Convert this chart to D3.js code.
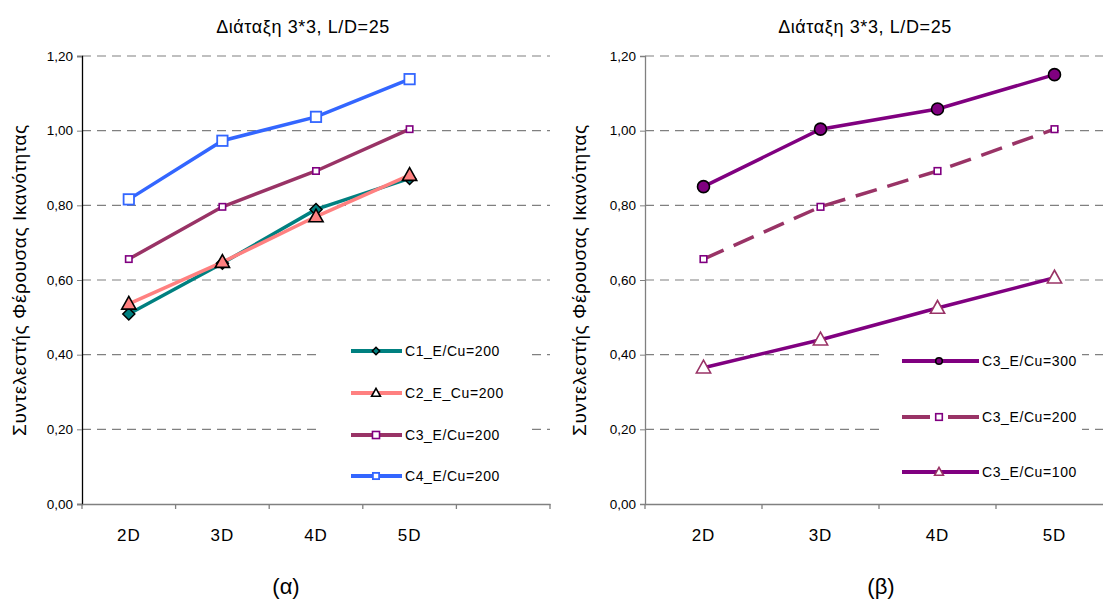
<!DOCTYPE html>
<html><head><meta charset="utf-8">
<script src="https://cdn.jsdelivr.net/npm/d3@7"></script>
<style>
body{margin:0;background:#fff;}
text{font-family:"Liberation Sans",Arial,sans-serif;fill:#000;}
</style></head>
<body><svg id="c" width="1103" height="601"></svg>
<script>
const title = "Διάταξη 3*3, L/D=25";
const yTitle = "Συντελεστής Φέρουσας Ικανότητας";
const categoriesA = ["2D","3D","4D","5D",""];
const categoriesB = ["2D","3D","4D","5D"];
const yTicks = [0,0.2,0.4,0.6,0.8,1.0,1.2];
const C1 = [0.509,0.645,0.789,0.872];
const C2 = [0.536,0.648,0.770,0.881];
const C3 = [0.656,0.796,0.892,1.004];
const C4 = [0.816,0.973,1.037,1.138];
const E300 = [0.850,1.004,1.058,1.150];
const E200 = [0.656,0.796,0.892,1.004];
const E100 = [0.365,0.440,0.525,0.606];
const namesA = ["C1_E/Cu=200","C2_E_Cu=200","C3_E/Cu=200","C4_E/Cu=200"];
const namesB = ["C3_E/Cu=300","C3_E/Cu=200","C3_E/Cu=100"];

const svg = d3.select("#c");
const fmt = d => d.toFixed(2).replace(".", ",");

function panel(cfg){
  const g = svg.append("g");
  const x = d3.scaleBand().domain(cfg.cats).range([cfg.x0, cfg.x1]);
  const y = d3.scaleLinear().domain([0,1.2]).range([504,56]);
  // grid
  g.append("g").selectAll("line").data(yTicks.slice(1)).join("line")
    .attr("x1", cfg.x0).attr("x2", cfg.gx1).attr("y1", d=>y(d)).attr("y2", d=>y(d))
    .attr("stroke","#808080").attr("stroke-width",1.2).attr("stroke-dasharray","9,6");
  // legend backdrop
  g.append("rect").attr("x",cfg.lg.bx).attr("y",cfg.lg.by).attr("width",cfg.lg.bw).attr("height",cfg.lg.bh).attr("fill","#fff");
  // axes
  const ya = g.append("g").attr("transform",`translate(${cfg.x0},0)`)
    .call(d3.axisLeft(y).tickValues(yTicks).tickFormat(fmt).tickSize(5).tickPadding(4));
  ya.select(".domain").attr("stroke",cfg.yAxisColor).attr("stroke-width",1.3);
  ya.selectAll(".tick line").attr("stroke","#808080");
  ya.selectAll("text").style("font-size","13.5px").style("font-family","Liberation Sans,Arial");
  const xa = g.append("g").attr("transform",`translate(0,${y(0)})`)
    .call(d3.axisBottom(x).tickSize(0).tickPadding(0).tickFormat(""));
  xa.select(".domain").attr("stroke","#808080").attr("stroke-width",1.3);
  const edges = d3.range(cfg.cats.length+1).map(i => cfg.x0 + i*x.step());
  g.append("g").selectAll("line").data(edges).join("line")
    .attr("x1",d=>d).attr("x2",d=>d).attr("y1",y(0)).attr("y2",y(0)+5).attr("stroke","#808080").attr("stroke-width",1.3);
  g.append("g").selectAll("text").data(cfg.cats.filter(c=>c)).join("text")
    .attr("x",d=>x(d)+x.bandwidth()/2).attr("y",y(0)+37).attr("text-anchor","middle")
    .style("font-size","17px").style("letter-spacing","1px").text(d=>d);
  // title
  g.append("text").attr("x",cfg.tx).attr("y",33).attr("text-anchor","middle")
    .style("font-size","18px").style("letter-spacing","0.6px").text(title);
  g.append("text").attr("transform",`translate(${cfg.ytx},${280}) rotate(-90)`).attr("text-anchor","middle")
    .style("font-size","19px").style("letter-spacing","0.6px").text(yTitle);
  g.append("text").attr("x",cfg.capx).attr("y",594).attr("text-anchor","middle")
    .style("font-size","22px").text(cfg.cap);

  const cx = i => x(cfg.cats[i]) + x.bandwidth()/2;
  cfg.series.forEach(s => {
    const line = d3.line().x((d,i)=>cx(i)).y(d=>y(d));
    g.append("path").datum(s.data).attr("d",line).attr("fill","none")
      .attr("stroke",s.color).attr("stroke-width",3.5).attr("stroke-dasharray",s.dash||null);
  });
  cfg.series.forEach(s => {
    s.data.forEach((d,i)=> marker(g, s.m, cx(i), y(d), false));
  });
  // legend
  cfg.series.forEach((s,k) => {
    const ly = cfg.lg.ys[k];
    if (s.dash){
      g.append("line").attr("x1",cfg.lg.l0).attr("x2",cfg.lg.mx-9).attr("y1",ly).attr("y2",ly).attr("stroke",s.color).attr("stroke-width",4);
      g.append("line").attr("x1",cfg.lg.mx+9).attr("x2",cfg.lg.l1).attr("y1",ly).attr("y2",ly).attr("stroke",s.color).attr("stroke-width",4);
    } else {
      g.append("line").attr("x1",cfg.lg.l0).attr("x2",cfg.lg.l1).attr("y1",ly).attr("y2",ly).attr("stroke",s.color).attr("stroke-width",4);
    }
    marker(g, s.m, cfg.lg.mx, ly, true);
    g.append("text").attr("x",cfg.lg.tx).attr("y",ly+5).style("font-size","14px").style("letter-spacing","0.6px").text(s.name);
  });
}

function marker(g, m, px, py, small){
  const k = small ? 0.62 : 1;
  if (m.type==="diamond"){
    const r = m.r*k;
    g.append("path").attr("d",`M${px},${py-r}L${px+r},${py}L${px},${py+r}L${px-r},${py}Z`)
      .attr("fill",m.fill).attr("stroke",m.stroke).attr("stroke-width",m.sw);
  } else if (m.type==="triangle"){
    const r = m.r*k;
    g.append("path").attr("d",`M${px},${py-r}L${px+r*0.95},${py+r*0.7}L${px-r*0.95},${py+r*0.7}Z`)
      .attr("fill",small && m.lfill ? m.lfill : m.fill).attr("stroke",m.stroke).attr("stroke-width",m.sw);
  } else if (m.type==="square"){
    const r = m.r*(small? (m.lk||0.8) : 1);
    g.append("rect").attr("x",px-r).attr("y",py-r).attr("width",2*r).attr("height",2*r)
      .attr("fill",m.fill).attr("stroke",m.stroke).attr("stroke-width",m.sw);
  } else if (m.type==="circle"){
    g.append("circle").attr("cx",px).attr("cy",py).attr("r",m.r*(small?0.55:1))
      .attr("fill",m.fill).attr("stroke",m.stroke).attr("stroke-width",m.sw);
  }
}

panel({
  cats: categoriesA, x0: 82, x1: 550, gx1: 550, yAxisColor:"#000",
  tx: 303, ytx: 26, capx: 286, cap: "(α)",
  lg: {bx:322, by:332, bw:210, bh:160, l0:351, l1:402, mx:376, tx:405, ys:[351,393,435,476]},
  series: [
    {name:namesA[0], data:C1, color:"#008080", m:{type:"diamond", r:6, fill:"#008080", stroke:"#000", sw:1.5}},
    {name:namesA[1], data:C2, color:"#FF8080", m:{type:"triangle", r:7.5, fill:"#FF8080", lfill:"#fff", stroke:"#000", sw:1.6}},
    {name:namesA[2], data:C3, color:"#993366", m:{type:"square", r:3.2, fill:"#fff", stroke:"#800080", sw:1.6, lk:1.1}},
    {name:namesA[3], data:C4, color:"#3366FF", m:{type:"square", r:5.2, fill:"#fff", stroke:"#3366FF", sw:1.8, lk:0.6}}
  ]
});
panel({
  cats: categoriesB, x0: 645, x1: 1113, gx1: 1103, yAxisColor:"#808080",
  tx: 865, ytx: 586, capx: 881, cap: "(β)",
  lg: {bx:883, by:340, bw:199, bh:150, l0:902, l1:979, mx:939, tx:982, ys:[361,417,472]},
  series: [
    {name:namesB[0], data:E300, color:"#800080", m:{type:"circle", r:6, fill:"#800080", stroke:"#000", sw:1.6}},
    {name:namesB[1], data:E200, color:"#993366", dash:"22,11", m:{type:"square", r:3.3, fill:"#fff", stroke:"#800080", sw:1.6, lk:1.0}},
    {name:namesB[2], data:E100, color:"#800080", m:{type:"triangle", r:7.5, fill:"#fff", stroke:"#993366", sw:1.6}}
  ]
});
</script></body></html>
